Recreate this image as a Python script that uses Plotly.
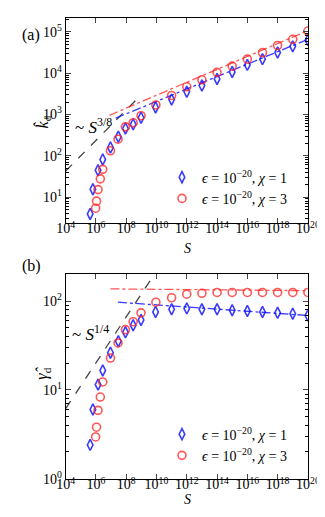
import plotly.graph_objects as go

# exponents of S (log10) and of the measured quantities (log10)
S_blue = [5.62, 5.8, 6.14, 6.45, 6.96, 7.48, 7.95, 8.46, 8.98, 9.94,
          11, 12, 13, 14, 15, 16, 17, 18, 19, 20]
S_red = [5.98, 6.04, 6.14, 6.29, 6.45, 6.96, 7.46, 7.95, 8.46, 8.98, 9.96,
         11, 12, 13, 14, 15, 16, 17, 18, 19, 20]

k_blue = [0.59, 1.19, 1.65, 1.91, 2.2, 2.46, 2.66, 2.76, 2.92, 3.17,
          3.36, 3.55, 3.7, 3.86, 4.03, 4.2, 4.34, 4.5, 4.65, 4.8]
k_red = [0.73, 0.9, 1.18, 1.44, 1.67, 2.12, 2.4, 2.7, 2.8, 2.97, 3.23,
         3.46, 3.67, 3.84, 4.02, 4.17, 4.34, 4.5, 4.67, 4.82, 5.02]

g_blue = [0.38, 0.78, 1.06, 1.22, 1.42, 1.55, 1.65, 1.73, 1.79, 1.88,
          1.91, 1.92, 1.91, 1.91, 1.9, 1.89, 1.88, 1.87, 1.86, 1.84]
g_red = [0.47, 0.58, 0.77, 0.92, 1.09, 1.36, 1.53, 1.68, 1.77, 1.87, 1.99,
         2.04, 2.08, 2.09, 2.1, 2.1, 2.1, 2.1, 2.1, 2.1, 2.1]

# fitted power laws (endpoints, log10)
fit_k_blue = ([7.3, 20], [2.91, 4.82])
fit_k_red = ([6.9, 20], [2.98, 5.03])
fit_g_blue = ([7.45, 20], [1.99, 1.84])
fit_g_red = ([6.96, 20], [2.14, 2.12])
guide_k = ([4, 9], [1.63, 3.48])      # ~ S^(3/8)
guide_g = ([4, 10], [0.79, 2.34])     # ~ S^(1/4)

BLUE = "rgba(10,10,255,0.8)"
RED = "rgba(255,30,30,0.75)"
FONT = "Liberation Serif"


def p(v):
    return [10.0 ** e for e in v]


fig = go.Figure()


def add_panel(xa, ya, yb, yr, fb, fr, guide, legend):
    fig.add_trace(go.Scatter(x=p(guide[0]), y=p(guide[1]), mode="lines",
                             line=dict(color="#444", width=1.3, dash="dash"),
                             xaxis=xa, yaxis=ya, showlegend=False))
    fig.add_trace(go.Scatter(x=p(fr[0]), y=p(fr[1]), mode="lines",
                             line=dict(color=RED, width=1.3, dash="dashdot"),
                             xaxis=xa, yaxis=ya, showlegend=False))
    fig.add_trace(go.Scatter(x=p(fb[0]), y=p(fb[1]), mode="lines",
                             line=dict(color=BLUE, width=1.3, dash="dashdot"),
                             xaxis=xa, yaxis=ya, showlegend=False))
    fig.add_trace(go.Scatter(x=p(S_blue), y=p(yb), mode="markers",
                             marker=dict(symbol="diamond-tall-open", size=8,
                                         color=BLUE, line=dict(width=1.6)),
                             name="<i>ϵ</i> = 10<sup>−20</sup>, <i>χ</i> = 1",
                             xaxis=xa, yaxis=ya, legend=legend))
    fig.add_trace(go.Scatter(x=p(S_red), y=p(yr), mode="markers",
                             marker=dict(symbol="circle-open", size=8,
                                         color=RED, line=dict(width=1.6)),
                             name="<i>ϵ</i> = 10<sup>−20</sup>, <i>χ</i> = 3",
                             xaxis=xa, yaxis=ya, legend=legend))


add_panel("x", "y", k_blue, k_red, fit_k_blue, fit_k_red, guide_k, "legend")
add_panel("x2", "y2", g_blue, g_red, fit_g_blue, fit_g_red, guide_g, "legend2")

xt = [10.0 ** e for e in range(4, 21, 2)]
xtt = ["10<sup>%d</sup>" % e for e in range(4, 21, 2)]


def minors(lo, hi):
    return [m * 10.0 ** d for d in range(lo, hi) for m in range(2, 10)]


xaxis = dict(type="log", range=[4, 20], tickvals=xt, ticktext=xtt,
             ticks="inside", ticklen=5, mirror="ticks", showline=True,
             linecolor="black", linewidth=1, showgrid=False, zeroline=False,
             ticklabelstandoff=-7,
             tickfont=dict(family=FONT, size=14, color="black"))
yaxis = dict(type="log", ticks="inside", ticklen=5, mirror="ticks",
             showline=True, linecolor="black", linewidth=1, showgrid=False,
             zeroline=False, tickfont=dict(family=FONT, size=14, color="black"))

fig.update_layout(
    width=325, height=517, margin=dict(l=0, r=0, t=0, b=0),
    plot_bgcolor="white", paper_bgcolor="white",
    xaxis=dict(xaxis, domain=[52 / 325, 311 / 325], anchor="y"),
    yaxis=dict(yaxis, domain=[1 - 218 / 517, 1 - 10 / 517], anchor="x",
               range=[0.38, 5.34],
               tickvals=[10.0 ** e for e in range(1, 6)],
               ticktext=["10<sup>%d</sup>" % e for e in range(1, 6)],
               minor=dict(tickvals=minors(0, 6), ticks="inside", ticklen=3,
                          tickcolor="black", showgrid=False)),
    xaxis2=dict(xaxis, domain=[52 / 325, 311 / 325], anchor="y2"),
    yaxis2=dict(yaxis, domain=[1 - 478 / 517, 1 - 270 / 517], anchor="x2",
                range=[0, 2.31],
                tickvals=[10.0 ** e for e in range(0, 3)],
                ticktext=["10<sup>%d</sup>" % e for e in range(0, 3)],
                minor=dict(tickvals=minors(0, 3), ticks="inside", ticklen=3,
                           tickcolor="black", showgrid=False)),
    legend=dict(x=155 / 325, y=1 - 156 / 517, xanchor="left", yanchor="top",
                bgcolor="rgba(0,0,0,0)", itemwidth=30, tracegroupgap=0,
                font=dict(family=FONT, size=14, color="black")),
    legend2=dict(x=155 / 325, y=1 - 417 / 517, xanchor="left", yanchor="top",
                 bgcolor="rgba(0,0,0,0)", itemwidth=30, tracegroupgap=0,
                 font=dict(family=FONT, size=14, color="black")),
)

ann = [
    ("(a)", 3, 16, 16, "left"),
    ("(b)", 3, 262, 16, "left"),
    ("<i>S</i>", 182, 244, 14, "center"),
    ("<i>S</i>", 182, 509, 14, "center"),
    ("~ <i>S</i><sup>3/8</sup>", 60, 107, 17, "left"),
    ("~ <i>S</i><sup>1/4</sup>", 57, 330, 17, "left"),
]
for t, x, y, s, al in ann:
    fig.add_annotation(text=t, x=x / 325, y=1 - y / 517, xref="paper",
                       yref="paper", showarrow=False, xanchor=al,
                       font=dict(family=FONT, size=s, color="black"))

for t, y in [("<i>k̂</i><sub>d</sub>", 107), ("<i>γ̂</i><sub>d</sub>", 380)]:
    fig.add_annotation(text=t, x=15 / 325, y=1 - y / 517, xref="paper",
                       yref="paper", showarrow=False, textangle=-90,
                       font=dict(family=FONT, size=16, color="black"))

fig.write_html("out.html")
